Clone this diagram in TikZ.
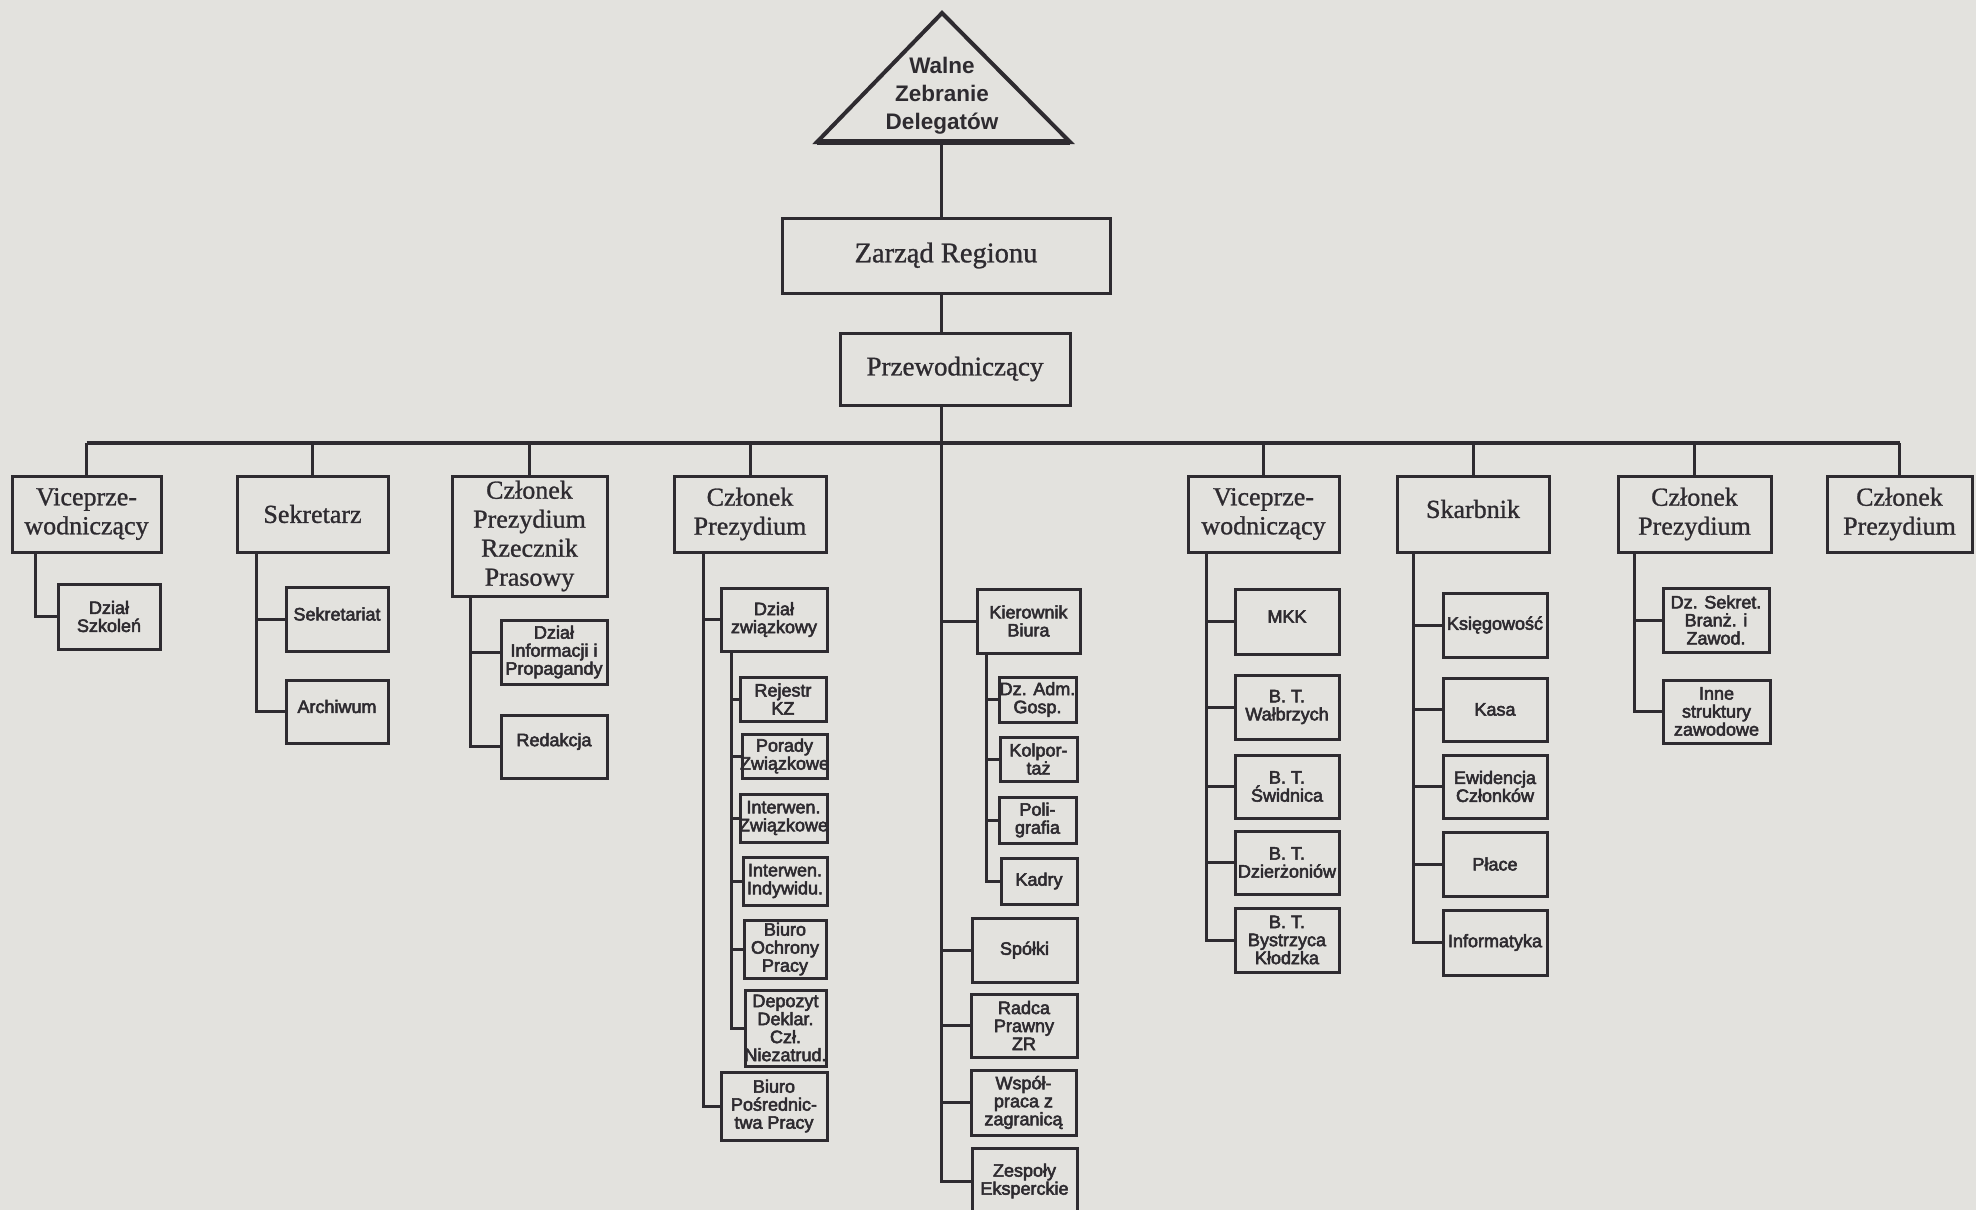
\documentclass[tikz,border=0pt]{standalone}
\usepackage{fontspec}
\setmainfont{Liberation Serif}[FakeBold=1]
\newfontfamily\sansf{Liberation Sans}[FakeBold=3]
\newfontfamily\sansb{Liberation Sans Bold}
\definecolor{paper}{HTML}{E3E2DE}
\definecolor{ink}{HTML}{2E2B30}
\newcommand\zl[1]{\makebox[0pt]{#1}}
\newcommand\up[1]{\raisebox{5pt}[\height][\depth]{#1}}
\newcommand\ubox[7]{\node[#2, minimum width={(#5-#3)*1pt}, minimum height={(#6-#4)*1pt}] (#1) at ({(#3+#5)/2},{(#4+#6)/2}) {#7};}
\begin{document}
\begin{tikzpicture}[x=1pt, y=-1pt,
  bx/.style={draw=ink, line width=3pt, inner sep=0pt, align=center, text=ink},
  big/.style={bx, font=\fontsize{26}{29}\selectfont},
  sm/.style={bx, font=\sansf\fontsize{18}{18}\selectfont},
  ln/.style={draw=ink, line width=3pt}]
\useasboundingbox (0,0) rectangle (1976,1210);
\fill[paper] (0,0) rectangle (1976,1210);
\clip (0,0) rectangle (1976,1210);

% top
\coordinate (apex) at (942,13);
\coordinate (tl) at (817,142);
\coordinate (tr) at (1070,142);
\coordinate (cx) at (941,0);
\draw[draw=ink, line width=4pt, line join=miter] (apex) -- (tl) -- (tr) -- cycle;
\draw[draw=ink, line width=6.5pt] (tl) -- (tr);
\node[font=\sansb\fontsize{22.5}{28}\selectfont, text=ink, align=center, inner sep=0pt] (wzd) at (942,96) {Walne\\Zebranie\\Delegatów};
\coordinate (tb) at (941,142);

\ubox{zr}{bx,font=\fontsize{28.5}{30}\selectfont}{782}{218}{1110}{293}{Zarząd Regionu}
\ubox{prz}{bx,font=\fontsize{27}{30}\selectfont}{840}{333}{1070}{405}{Przewodniczący}

% level 1
\ubox{v1}{big}{12}{476}{161}{552}{\zl{Viceprze-}\\\zl{wodniczący}}
\ubox{sek}{big}{237}{476}{388}{552}{Sekretarz}
\ubox{rz}{big}{452}{476}{607}{596}{\zl{Członek}\\\zl{Prezydium}\\\zl{Rzecznik}\\\zl{Prasowy}}
\ubox{cp1}{big}{674}{476}{826}{552}{\zl{Członek}\\\zl{Prezydium}}
\ubox{v2}{big}{1188}{476}{1339}{552}{\zl{Viceprze-}\\\zl{wodniczący}}
\ubox{ska}{big}{1397}{476}{1549}{552}{\up{Skarbnik}}
\ubox{cp2}{big}{1618}{476}{1771}{552}{\zl{Członek}\\\zl{Prezydium}}
\ubox{cp3}{big}{1827}{476}{1972}{552}{\zl{Członek}\\\zl{Prezydium}}

% children
\ubox{szk}{sm}{58}{584}{160}{649}{\zl{Dział}\\\zl{Szkoleń}}
\ubox{sekr}{sm}{286}{587}{388}{651}{\up{Sekretariat}}
\ubox{arch}{sm}{286}{680}{388}{743}{\up{Archiwum}}
\ubox{dip}{sm}{501}{620}{607}{684}{\zl{Dział}\\\zl{Informacji i}\\\zl{Propagandy}}
\ubox{red}{sm}{501}{715}{607}{778}{\up{Redakcja}}

\ubox{dzz}{sm}{721}{588}{827}{651}{\zl{Dział}\\\zl{związkowy}}
\ubox{rej}{sm}{740}{677}{826}{721}{\zl{Rejestr}\\\zl{KZ}}
\ubox{por}{sm}{742}{734}{827}{778}{\zl{Porady}\\\zl{Związkowe}}
\ubox{iz}{sm}{740}{794}{827}{842}{\zl{Interwen.}\\\zl{Związkowe}}
\ubox{ii}{sm}{743}{857}{827}{905}{\zl{Interwen.}\\\zl{Indywidu.}}
\ubox{bop}{sm}{744}{920}{826}{978}{\zl{Biuro}\\\zl{Ochrony}\\\zl{Pracy}}
\ubox{dep}{sm}{745}{990}{826}{1066}{\zl{Depozyt}\\\zl{Deklar.}\\\zl{Czł.}\\\zl{Niezatrud.}}
\ubox{bpp}{sm}{721}{1072}{827}{1140}{\zl{Biuro}\\\zl{Pośrednic-}\\\zl{twa Pracy}}

\ubox{kb}{sm}{977}{589}{1080}{653}{\zl{Kierownik}\\\zl{Biura}}
\ubox{adm}{sm}{999}{677}{1076}{722}{\zl{Dz. Adm.}\\\zl{Gosp.}}
\ubox{kol}{sm}{1000}{737}{1077}{781}{\zl{Kolpor-}\\\zl{taż}}
\ubox{pol}{sm}{999}{797}{1076}{843}{\zl{Poli-}\\\zl{grafia}}
\ubox{kad}{sm}{1001}{858}{1077}{904}{Kadry}
\ubox{spo}{sm}{972}{918}{1077}{982}{Spółki}
\ubox{rad}{sm}{971}{994}{1077}{1057}{\zl{Radca}\\\zl{Prawny}\\\zl{ZR}}
\ubox{wsp}{sm}{971}{1070}{1076}{1135}{\zl{Współ-}\\\zl{praca z}\\\zl{zagranicą}}
\ubox{zesp}{sm}{972}{1148}{1077}{1214}{\zl{Zespoły}\\\zl{Eksperckie}}

\ubox{mkk}{sm}{1235}{589}{1339}{654}{\up{MKK}}
\ubox{wal}{sm}{1235}{675}{1339}{739}{\zl{B. T.}\\\zl{Wałbrzych}}
\ubox{swi}{sm}{1235}{755}{1339}{818}{\zl{B. T.}\\\zl{Świdnica}}
\ubox{dzi}{sm}{1235}{831}{1339}{894}{\zl{B. T.}\\\zl{Dzierżoniów}}
\ubox{bys}{sm}{1235}{908}{1339}{972}{\zl{B. T.}\\\zl{Bystrzyca}\\\zl{Kłodzka}}

\ubox{ksi}{sm}{1443}{593}{1547}{657}{\zl{Księgowość}}
\ubox{kasa}{sm}{1443}{678}{1547}{741}{Kasa}
\ubox{ewi}{sm}{1443}{755}{1547}{818}{\zl{Ewidencja}\\\zl{Członków}}
\ubox{pla}{sm}{1443}{832}{1547}{896}{Płace}
\ubox{inf}{sm}{1443}{910}{1547}{975}{\zl{Informatyka}}

\ubox{dzs}{sm}{1663}{588}{1769}{652}{\zl{Dz. Sekret.}\\\zl{Branż. i}\\\zl{Zawod.}}
\ubox{inne}{sm}{1663}{680}{1770}{743}{\zl{Inne}\\\zl{struktury}\\\zl{zawodowe}}

% connectors top
\draw[ln] (tb) -- (zr.north -| cx);
\draw[ln] (zr.south -| cx) -- (prz.north -| cx);
\coordinate (busy) at (0,443);
\draw[ln, line width=4pt] (v1.north |- busy) -- (cp3.north |- busy);
\foreach \n in {v1,sek,rz,cp1,v2,ska,cp2,cp3} \draw[ln] (\n.north) -- (\n.north |- busy);

% central spine
\foreach \c in {kb,spo,rad,wsp,zesp} \draw[ln] (prz.south -| cx) |- (\c.west);

% vertical x positions
\coordinate (x1) at (35,0);
\coordinate (x2) at (256,0);
\coordinate (x3) at (470,0);
\coordinate (x4) at (703,0);
\coordinate (x4b) at (731,0);
\coordinate (xk) at (986,0);
\coordinate (x5) at (1206,0);
\coordinate (x6) at (1413,0);
\coordinate (x7) at (1634,0);

\draw[ln] (v1.south -| x1) |- (szk.west);
\foreach \c in {sekr,arch} \draw[ln] (sek.south -| x2) |- (\c.west);
\foreach \c in {dip,red} \draw[ln] (rz.south -| x3) |- (\c.west);
\foreach \c in {dzz,bpp} \draw[ln] (cp1.south -| x4) |- (\c.west);
\foreach \c in {rej,por,iz,ii,bop,dep} \draw[ln] (dzz.south -| x4b) |- (\c.west);
\foreach \c in {adm,kol,pol,kad} \draw[ln] (kb.south -| xk) |- (\c.west);
\foreach \c in {mkk,wal,swi,dzi,bys} \draw[ln] (v2.south -| x5) |- (\c.west);
\foreach \c in {ksi,kasa,ewi,pla,inf} \draw[ln] (ska.south -| x6) |- (\c.west);
\foreach \c in {dzs,inne} \draw[ln] (cp2.south -| x7) |- (\c.west);
\end{tikzpicture}
\end{document}
